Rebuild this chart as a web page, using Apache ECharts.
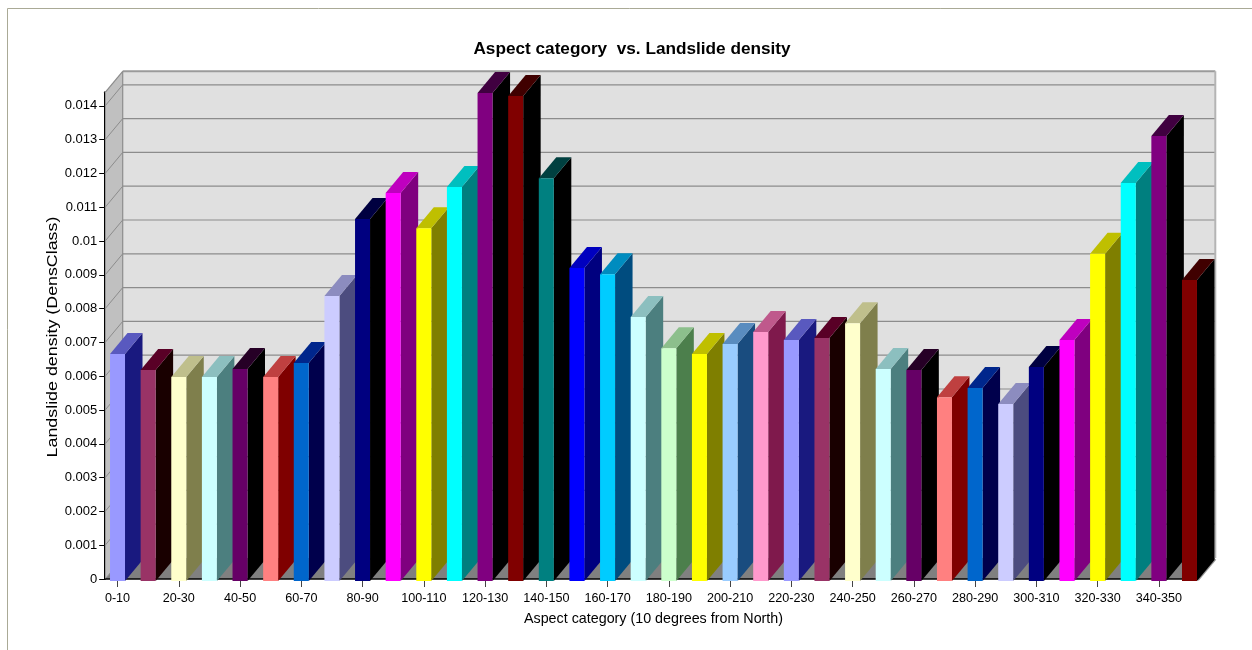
<!DOCTYPE html>
<html>
<head>
<meta charset="utf-8">
<style>html,body{margin:0;padding:0;background:#fff;overflow:hidden}#chart{width:1252px;height:650px}</style>
<script src="https://cdn.jsdelivr.net/npm/echarts@6/dist/echarts.min.js"></script>
</head>
<body>
<div id="chart"></div>
<script>
// Landslide density per 10-degree aspect class
const categories = ['0-10','10-20','20-30','30-40','40-50','50-60','60-70','70-80','80-90','90-100',
  '100-110','110-120','120-130','130-140','140-150','150-160','160-170','170-180','180-190','190-200',
  '200-210','210-220','220-230','230-240','240-250','250-260','260-270','270-280','280-290','290-300',
  '300-310','310-320','320-330','330-340','340-350','350-360'];
const density = [0.00666,0.00618,0.00598,0.00598,0.00621,0.00598,0.00639,0.00837,0.01065,0.01142,
  0.01038,0.0116,0.01438,0.01429,0.01186,0.0092,0.00902,0.00775,0.00683,0.00666,
  0.00695,0.00731,0.00707,0.00713,0.00757,0.00621,0.00618,0.00538,0.00565,0.00518,
  0.00627,0.00707,0.00962,0.01172,0.01311,0.00885];
const barColors = ['#9999FF','#993366','#FFFFCC','#CCFFFF','#660066','#FF8080','#0066CC','#CCCCFF','#000080','#FF00FF',
  '#FFFF00','#00FFFF','#800080','#800000','#008080','#0000FF','#00CCFF','#CCFFFF','#CCFFCC','#FFFF00',
  '#99CCFF','#FF99CC','#9999FF','#993366','#FFFFCC','#CCFFFF','#660066','#FF8080','#0066CC','#CCCCFF',
  '#000080','#FF00FF','#FFFF00','#00FFFF','#800080','#800000'];
const yTicks = [0,0.001,0.002,0.003,0.004,0.005,0.006,0.007,0.008,0.009,0.01,0.011,0.012,0.013,0.014];

// Oblique projection of the fake 3D box
const DEPTH_X = 17.5, DEPTH_Y = -21, BAR_W = 15, BAR_SKIRT = 2;
const EDGE_LEFT = 3, EDGE_RIGHT = 7;   // the box sits slightly inside the category bands
const GRID_LINE = '#8c8c8c';

function shade(hex, amount) {
  const n = parseInt(hex.slice(1), 16);
  const c = [n >> 16, (n >> 8) & 255, n & 255].map(v => Math.max(0, v - amount));
  return 'rgb(' + c.join(',') + ')';
}

function poly(points, fill, z2) {
  return { type: 'polygon', shape: { points }, style: { fill, stroke: null }, z2: z2 || 0 };
}
function seg(x1, y1, x2, y2, stroke, lineWidth) {
  return { type: 'line', shape: { x1, y1, x2, y2 }, style: { stroke, lineWidth, fill: null } };
}

// Walls, floor and gridlines of the box
function renderBox(params, api) {
  const cs = params.coordSys;
  const x0 = cs.x + EDGE_LEFT, x1 = cs.x + cs.width - EDGE_RIGHT;
  const yBase = api.coord([0, 0])[1], yTop = cs.y;
  const dx = DEPTH_X, dy = DEPTH_Y;
  const kids = [
    poly([[x0 + dx, yTop + dy], [x1 + dx, yTop + dy], [x1 + dx, yBase + dy], [x0 + dx, yBase + dy]], '#E0E0E0'),
    poly([[x0, yBase], [x0 + dx, yBase + dy], [x0 + dx, yTop + dy], [x0, yTop]], '#C0C0C0'),
    poly([[x0, yBase], [x1, yBase], [x1 + dx, yBase + dy], [x0 + dx, yBase + dy]], '#808080')
  ];
  yTicks.forEach(t => {
    const y = api.coord([0, t])[1];
    if (t > 0) {
      kids.push(seg(x0 + dx, y + dy, x1 + dx, y + dy, GRID_LINE, 1.2));
    }
    kids.push(seg(x0, y, x0 + dx, y + dy, GRID_LINE, 1));
  });
  kids.push(seg(x0, yTop, x0 + dx, yTop + dy, GRID_LINE, 1.2));
  kids.push(seg(x0 + dx, yTop + dy, x1 + dx, yTop + dy, '#9a9a9a', 2));
  kids.push(seg(x0 + dx, yTop + dy, x0 + dx, yBase + dy, GRID_LINE, 1.2));
  kids.push(seg(x1 + dx, yTop + dy, x1 + dx, yBase + dy, '#b4b4b4', 2));
  kids.push(seg(x1, yBase + 1, x1 + dx, yBase + dy + 1, '#9a9a9a', 2.5));
  return { type: 'group', children: kids };
}

// One extruded bar: side, top, then front face
function renderBar(params, api) {
  const i = api.value(0);
  const top = api.coord([i, api.value(1)]);
  const base = api.coord([i, 0]);
  const col = barColors[i];
  const xl = top[0] - BAR_W / 2, xr = top[0] + BAR_W / 2;
  const yt = top[1], yb = base[1] + BAR_SKIRT;
  return {
    type: 'group',
    children: [
      poly([[xr, yb], [xr + DEPTH_X, yb + DEPTH_Y], [xr + DEPTH_X, yt + DEPTH_Y], [xr, yt]], shade(col, 128)),
      poly([[xl, yt], [xr, yt], [xr + DEPTH_X, yt + DEPTH_Y], [xl + DEPTH_X, yt + DEPTH_Y]], shade(col, 64)),
      poly([[xl, yt], [xr, yt], [xr, yb], [xl, yb]], col)
    ]
  };
}

// Front edge of the floor, drawn above the box but behind the bars
function renderBaseline(params, api) {
  const cs = params.coordSys;
  const y = api.coord([0, 0])[1];
  return seg(cs.x + EDGE_LEFT, y, cs.x + cs.width - EDGE_RIGHT, y, '#000', 1.5);
}

const FONT = '"Liberation Sans", Arial, sans-serif';
const chart = echarts.init(document.getElementById('chart'), null, { renderer: 'canvas' });
chart.setOption({
  animation: false,
  backgroundColor: '#fff',
  title: {
    text: 'Aspect category  vs. Landslide density',
    left: 627, top: 36, textAlign: 'center',
    textStyle: { fontFamily: FONT, fontSize: 17.2, fontWeight: 'bold', color: '#000' }
  },
  graphic: [{
    type: 'polyline', silent: true,
    shape: { points: [[7.5, 650], [7.5, 8.5], [1252, 8.5]] },
    style: { stroke: '#aaaa96', lineWidth: 1, fill: null }
  }, {
    type: 'text', silent: true,
    x: 53, y: 337, rotation: Math.PI / 2, scaleX: 1.15,
    style: { text: 'Landslide density (DensClass)', fontFamily: FONT, fontSize: 15.5, fill: '#000', align: 'center', verticalAlign: 'middle' }
  }],
  grid: { left: 102.2, right: 47.2, top: 92.3, bottom: 71 },
  xAxis: {
    type: 'category',
    data: categories,
    axisLine: { show: false },
    axisTick: { show: true, alignWithLabel: true, interval: 1, length: 8, lineStyle: { color: '#444', width: 1 } },
    axisLabel: { interval: 1, margin: 13.5, fontFamily: FONT, fontSize: 12.6, color: '#000' },
    name: 'Aspect category (10 degrees from North)',
    nameLocation: 'middle', nameGap: 33.5,
    nameTextStyle: { fontFamily: FONT, fontSize: 14.3, color: '#000' }
  },
  yAxis: {
    type: 'value',
    min: 0, max: 0.0144,
    offset: -3,
    splitLine: { show: false },
    axisLine: { show: true, onZero: false, lineStyle: { color: '#000', width: 2 } },
    axisTick: { show: true, length: 6, customValues: yTicks, lineStyle: { color: '#000', width: 1 } },
    axisLabel: { customValues: yTicks, margin: 8, fontFamily: FONT, fontSize: 13, color: '#000' }
  },
  series: [
    { type: 'custom', silent: true, clip: false, z: 1, data: [[0, 0]], encode: { x: 0, y: 1 }, renderItem: renderBox },
    { type: 'custom', silent: true, clip: false, z: 2, data: [[0, 0]], encode: { x: 0, y: 1 }, renderItem: renderBaseline },
    { type: 'custom', silent: true, clip: false, z: 3, data: density.map((v, i) => [i, v]), encode: { x: 0, y: 1 }, renderItem: renderBar }
  ]
});
</script>
</body>
</html>
